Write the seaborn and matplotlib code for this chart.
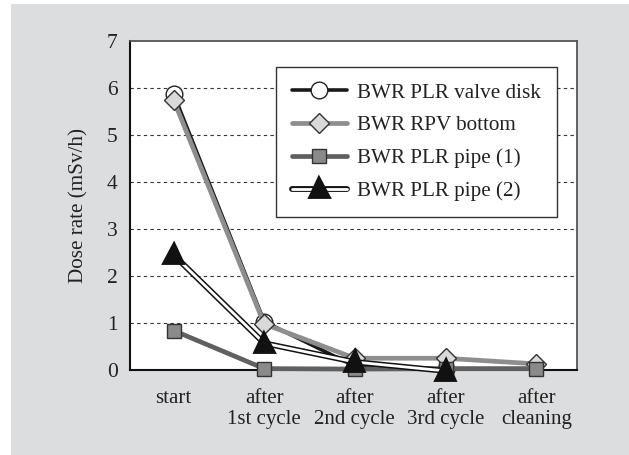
import numpy as np
import pandas as pd
import matplotlib
matplotlib.use("Agg")
import matplotlib.pyplot as plt
import matplotlib.patheffects as pe
from matplotlib.patches import Rectangle
import seaborn as sns

categories = ["start", "after\n1st cycle", "after\n2nd cycle", "after\n3rd cycle", "after\ncleaning"]
valve_disk = [5.88, 1.03, 0.08, 0.02, np.nan]
rpv_bottom = [5.75, 0.98, 0.25, 0.25, 0.13]
plr_pipe1 = [0.84, 0.03, 0.02, 0.03, 0.03]
plr_pipe2 = [2.45, 0.57, 0.17, -0.02, np.nan]
series_names = ["BWR PLR valve disk", "BWR RPV bottom", "BWR PLR pipe (1)", "BWR PLR pipe (2)"]
y_ticks = [0, 1, 2, 3, 4, 5, 6, 7]

sns.set_theme(style="white")
plt.rcParams["font.family"] = ["Liberation Serif", "DejaVu Serif"]

fig = plt.figure(figsize=(6.29, 4.55), dpi=100)
fig.patch.set_facecolor("white")
fig.patches.append(Rectangle((11 / 629, 0), 1 - 11 / 629, 1 - 4 / 455,
                             transform=fig.transFigure, facecolor="#dcdddf",
                             edgecolor="none", zorder=-10))
ax = fig.add_axes([130 / 629, 85 / 455, 447 / 629, 329 / 455])
ax.set_facecolor("white")

styles = [
    dict(color="#1a1a1a", lw=2.6, marker="o", ms=12, mfc="white", mec="#222222", mew=1.0),
    dict(color="#8e8e8e", lw=3.4, marker="D", ms=10, mfc="#d9d9d9", mec="#333333", mew=1.0),
    dict(color="#606060", lw=3.4, marker="s", ms=10, mfc="#8a8a8a", mec="#333333", mew=1.0),
    dict(color="white", lw=2.0, marker="^", ms=11, mfc="#111111", mec="#111111", mew=1.0,
         path_effects=[pe.Stroke(linewidth=4.2, foreground="#111111"), pe.Normal()]),
]

all_vals = [valve_disk, rpv_bottom, plr_pipe1, plr_pipe2]
for i, (name, vals, st) in enumerate(zip(series_names, all_vals, styles)):
    df = pd.DataFrame({"stage": categories, "dose": vals}).dropna()
    st = dict(st)
    color = st.pop("color")
    sns.lineplot(data=df, x="stage", y="dose", ax=ax, sort=False, label=name,
                 color=color, linewidth=st.pop("lw"), markersize=st.pop("ms"),
                 markerfacecolor=st.pop("mfc"), markeredgecolor=st.pop("mec"),
                 markeredgewidth=st.pop("mew"), clip_on=False, zorder=3 + i, **st)

ax.set_xlim(-0.48, 4.45)
ax.set_ylim(0, 7)
ax.set_yticks(y_ticks)
ax.set_yticklabels([str(t) for t in y_ticks], fontsize=15.5, color="#222222")
ax.set_xticks(range(len(categories)))
ax.set_xticklabels(categories, fontsize=15, color="#222222", linespacing=1.08)
ax.tick_params(axis="y", length=0, pad=9)
ax.tick_params(axis="x", length=0, pad=14)
ax.set_xlabel("")
ax.set_ylabel("Dose rate (mSv/h)", fontsize=15.2, color="#222222", labelpad=13)

for y in range(1, 7):
    ax.axhline(y, color="#333333", lw=0.8, ls=(0, (3, 3)), zorder=1)

for side in ["left", "bottom"]:
    ax.spines[side].set_color("#111111")
    ax.spines[side].set_linewidth(1.5)
for side in ["top", "right"]:
    ax.spines[side].set_color("#555555")
    ax.spines[side].set_linewidth(1.3)

leg = ax.legend(loc="upper right", bbox_to_anchor=(0.955, 0.921), borderaxespad=0,
                fontsize=15.2, frameon=True, fancybox=False, framealpha=1,
                edgecolor="#333333", handlelength=2.6, handletextpad=0.5,
                labelspacing=0.62, borderpad=0.75)
leg.get_frame().set_linewidth(1.0)
leg.set_zorder(10)
for t in leg.get_texts():
    t.set_color("#222222")

fig.savefig("out.png", dpi=100, facecolor=fig.get_facecolor())
